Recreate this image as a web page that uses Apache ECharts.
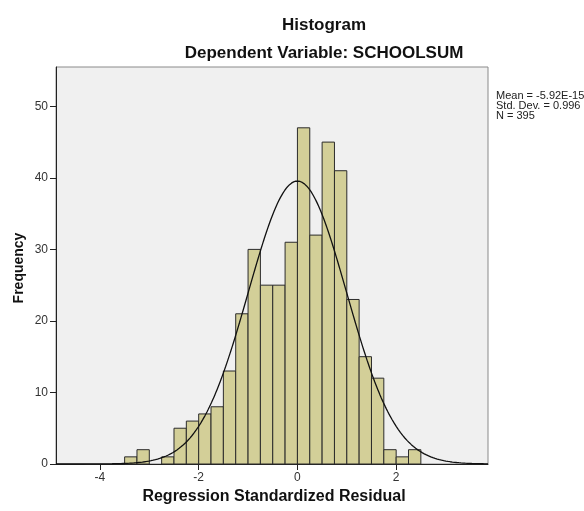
<!DOCTYPE html>
<html><head><meta charset="utf-8">
<script src="https://cdn.jsdelivr.net/npm/echarts@6/dist/echarts.min.js"></script>
<style>html,body{margin:0;padding:0;background:#fff}#c{width:584px;height:511px}</style>
</head><body><div id="c"></div>
<script>
// Histogram bins (left edges, width 0.25) and frequencies
const binWidth = 0.25;
const binLeft = [-3.5,-3.25,-3.0,-2.75,-2.5,-2.25,-2.0,-1.75,-1.5,-1.25,-1.0,-0.75,-0.5,-0.25,0.0,0.25,0.5,0.75,1.0,1.25,1.5,1.75,2.0,2.25];
const counts  = [1,2,0,1,5,6,7,8,13,21,30,25,25,31,47,32,45,41,23,15,12,2,1,2];
const xTicks = [-4,-2,0,2];
const yTicks = [0,10,20,30,40,50];
// Summary statistics shown in the chart
const statMean = -5.92e-15, statSD = 0.996, statN = 395;
const statLines = ['Mean = -5.92E-15','Std. Dev. = 0.996','N = 395'];

const xMin = -4.89, xMax = 3.86;
// normal curve from the displayed summary statistics
const curve = [];
for (let i = 0; i <= 400; i++) {
  const x = xMin + (xMax - xMin) * i / 400;
  const z = (x - statMean) / statSD;
  curve.push([x, statN * binWidth * Math.exp(-0.5 * z * z) / (statSD * Math.sqrt(2 * Math.PI))]);
}

const barData = binLeft.map((l, i) => [l, l + binWidth, counts[i]]);
const font = '"Liberation Sans", Arial, sans-serif';
const chart = echarts.init(document.getElementById('c'));
chart.setOption({
  animation: false,
  backgroundColor: '#fff',
  grid: {left: 56, right: 96, top: 67, bottom: 47, show: true, backgroundColor: '#f0f0f0', borderColor: '#8a8a8a', borderWidth: 1},
  xAxis: {
    type: 'value', min: xMin, max: xMax,
    axisLine: {show: true, onZero: false, lineStyle: {color: '#222', width: 1}},
    axisTick: {show: true, length: 6, customValues: xTicks, lineStyle: {color: '#222'}},
    axisLabel: {customValues: xTicks, color: '#333', fontSize: 12, fontFamily: font, margin: 8},
    splitLine: {show: false}
  },
  yAxis: {
    type: 'value', min: 0, max: 55.5,
    axisLine: {show: true, onZero: false, lineStyle: {color: '#222', width: 1}},
    axisTick: {show: true, length: 6, customValues: yTicks, lineStyle: {color: '#222'}},
    axisLabel: {customValues: yTicks, color: '#333', fontSize: 12, fontFamily: font, margin: 8},
    splitLine: {show: false}
  },
  series: [
    {
      type: 'custom',
      data: barData,
      renderItem: function (params, api) {
        if (api.value(2) <= 0) return null;
        const p0 = api.coord([api.value(0), 0]);
        const p1 = api.coord([api.value(1), api.value(2)]);
        return {
          type: 'rect',
          shape: {x: p0[0], y: p1[1], width: p1[0] - p0[0], height: p0[1] - p1[1]},
          style: {fill: '#d3cf98', stroke: '#2b2b2b', lineWidth: 1}
        };
      },
      encode: {x: [0, 1], y: 2},
      z: 2
    },
    {
      type: 'line', data: curve, showSymbol: false, smooth: false,
      lineStyle: {color: '#111', width: 1.3}, z: 3
    }
  ],
  graphic: [
    {type: 'text', x: 324, y: 25, style: {text: 'Histogram', font: 'bold 17px ' + font, fill: '#111', align: 'center', verticalAlign: 'middle'}},
    {type: 'text', x: 324, y: 53.5, style: {text: 'Dependent Variable: SCHOOLSUM', font: 'bold 17px ' + font, fill: '#111', align: 'center', verticalAlign: 'middle'}},
    {type: 'text', x: 496, y: 91, style: {text: statLines.join('\n'), font: '11px ' + font, lineHeight: 10, fill: '#222'}},
    {type: 'text', x: 19, y: 268, rotation: Math.PI / 2,
      style: {text: 'Frequency', font: 'bold 14px ' + font, fill: '#111', align: 'center', verticalAlign: 'middle'}},
    {type: 'text', x: 274, y: 497, style: {text: 'Regression Standardized Residual', font: 'bold 16px ' + font, fill: '#111', align: 'center', verticalAlign: 'middle'}}
  ]
});
</script></body></html>
